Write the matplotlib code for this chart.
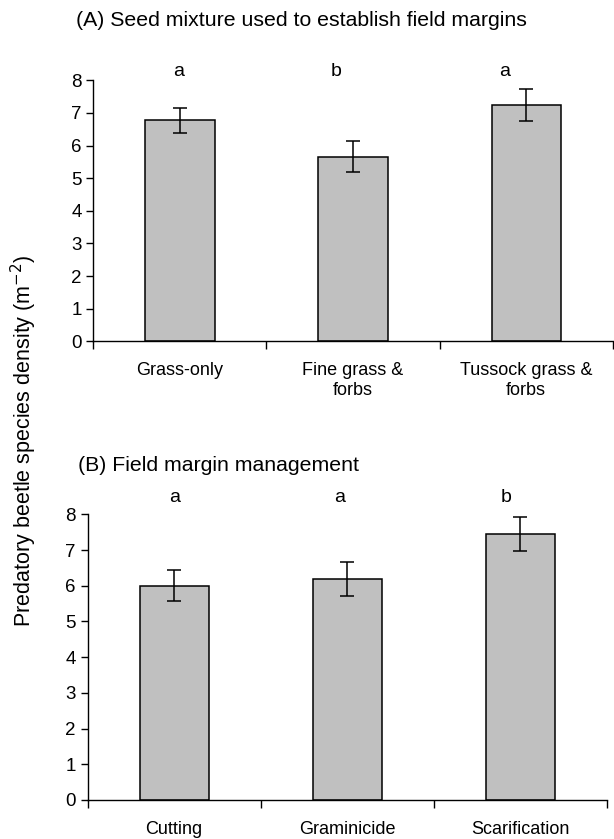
import matplotlib

matplotlib.use("Agg")
import matplotlib.pyplot as plt
import numpy as np

plt.rcParams["font.family"] = ["Liberation Sans", "DejaVu Sans"]

# Panel A: seed mixture
seed_labels = ["Grass-only", "Fine grass &\nforbs", "Tussock grass &\nforbs"]
seed_means = [6.77, 5.66, 7.24]
seed_se = [0.39, 0.48, 0.50]
seed_letters = ["a", "b", "a"]

# Panel B: management
mgmt_labels = ["Cutting", "Graminicide", "Scarification"]
mgmt_means = [6.0, 6.2, 7.45]
mgmt_se = [0.44, 0.48, 0.47]
mgmt_letters = ["a", "a", "b"]

yticks = list(range(0, 9))


def draw_panel(ax, labels, means, se, letters, letter_y, letter_dx):
    x = np.arange(len(labels))
    ax.bar(x, means, width=0.4, color="#c0c0c0", edgecolor="black", linewidth=1.1)
    ax.errorbar(x, means, yerr=se, fmt="none", ecolor="black",
                elinewidth=1.1, capsize=5, capthick=1.1)
    ax.set_xlim(-0.5, len(labels) - 0.5)
    ax.set_ylim(0, 8)
    ax.set_yticks(yticks)
    ax.tick_params(axis="y", labelsize=13.5, direction="out", length=5, width=1)
    # category ticks sit on the boundaries between groups
    ax.set_xticks(np.arange(len(labels) + 1) - 0.5)
    ax.set_xticklabels([])
    ax.set_xticks(x, minor=True)
    ax.set_xticklabels(labels, minor=True, fontsize=13)
    ax.tick_params(axis="x", which="major", direction="out", length=6, width=1)
    ax.tick_params(axis="x", which="minor", length=0, pad=15)
    for s in ["top", "right"]:
        ax.spines[s].set_visible(False)
    for s in ["left", "bottom"]:
        ax.spines[s].set_linewidth(1)
    for xi, lt, dx in zip(x, letters, letter_dx):
        ax.text(xi + dx, letter_y, lt, ha="center", va="center", fontsize=14,
                clip_on=False)


fig = plt.figure(figsize=(6.14, 8.39), dpi=100)
ax_a = fig.add_axes([0.152, 0.5932, 0.846, 0.3110])
ax_b = fig.add_axes([0.1428, 0.0465, 0.8452, 0.3404])

draw_panel(ax_a, seed_labels, seed_means, seed_se, seed_letters, 8.27,
           [-0.01, -0.095, -0.127])
draw_panel(ax_b, mgmt_labels, mgmt_means, mgmt_se, mgmt_letters, 8.46,
           [0.0, -0.043, -0.081])

fig.text(0.124, 0.976, "(A) Seed mixture used to establish field margins",
         fontsize=15.3, ha="left", va="center")
fig.text(0.127, 0.4446, "(B) Field margin management",
         fontsize=15.3, ha="left", va="center")
fig.text(0.039, 0.475, "Predatory beetle species density (m$^{-2}$)",
         rotation=90, ha="center", va="center", fontsize=15.5)

fig.savefig("out.png", dpi=100)
